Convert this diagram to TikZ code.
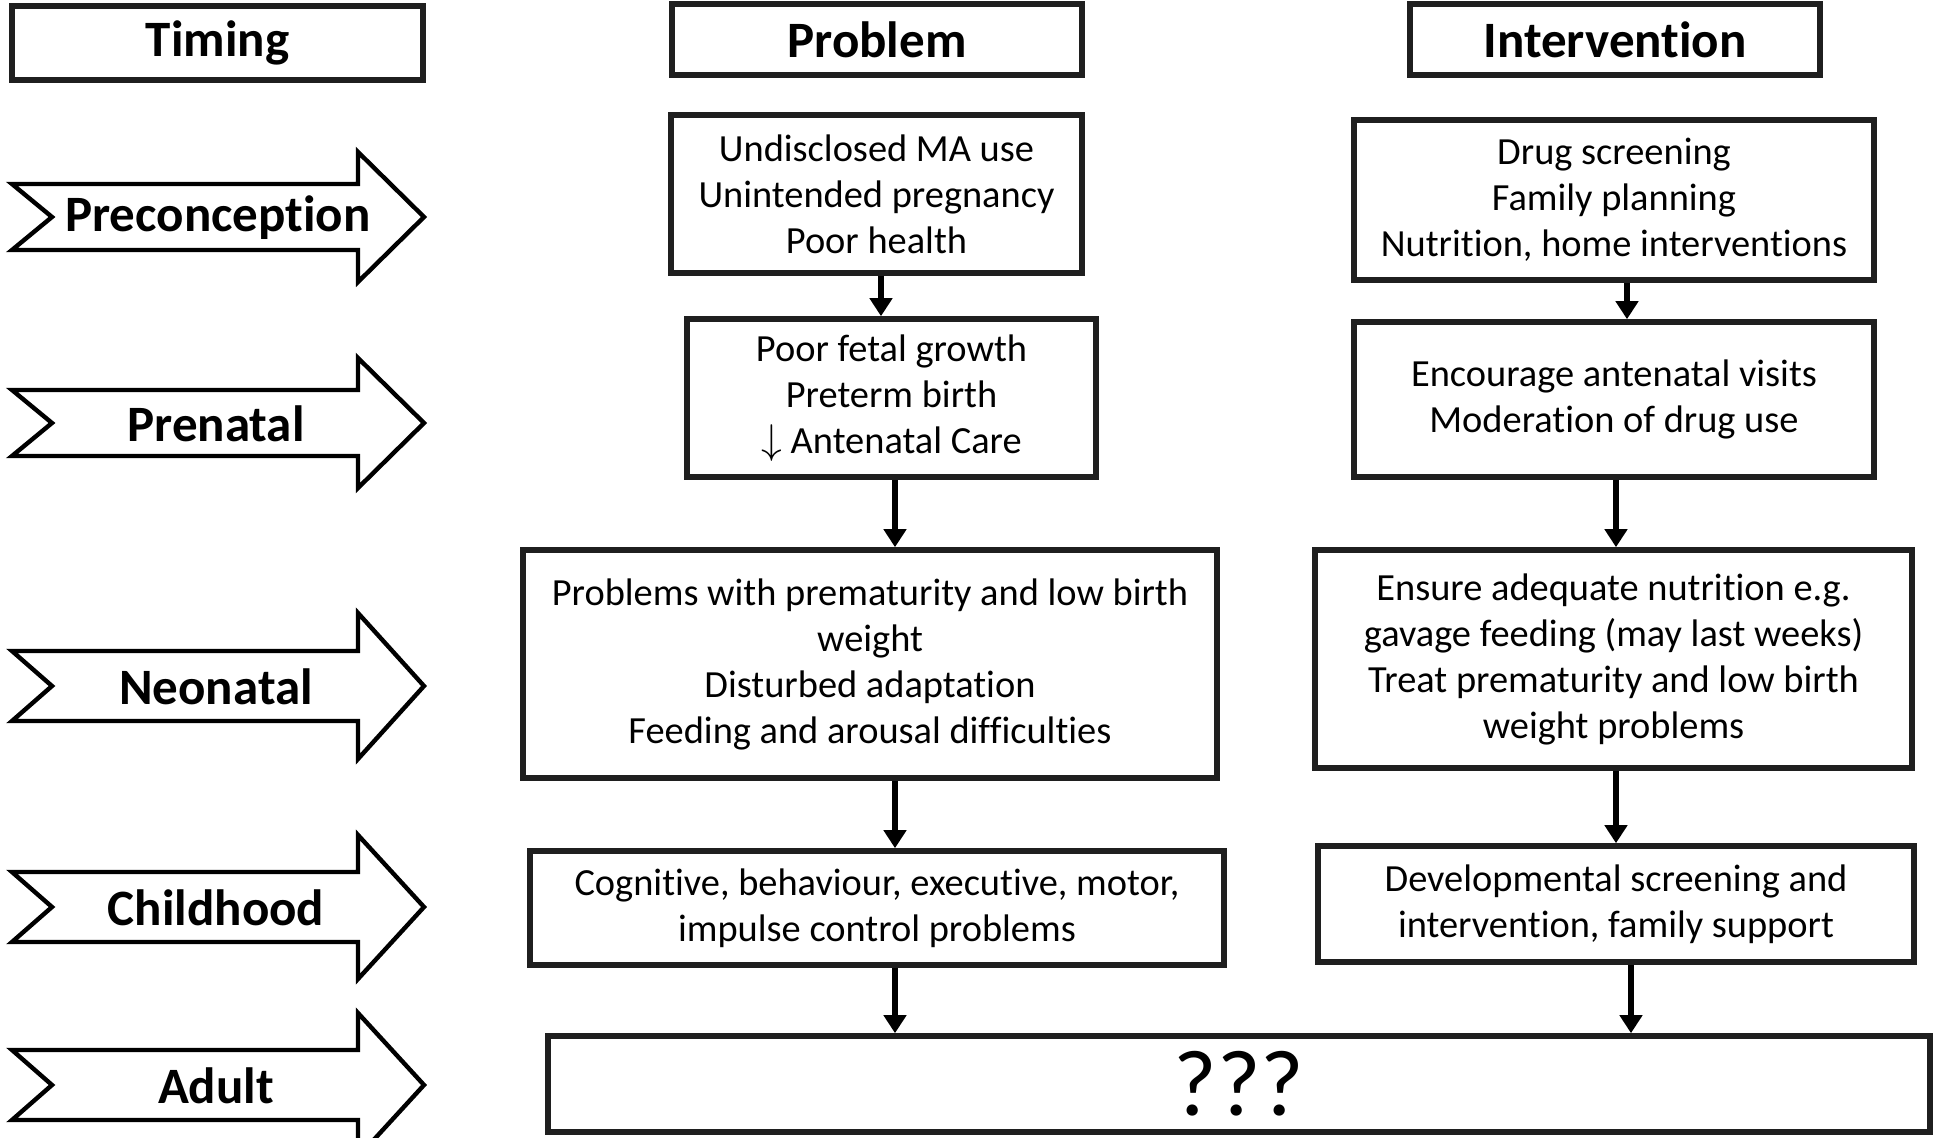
\documentclass[tikz,border=0pt]{standalone}
\usepackage{fontspec}
\setmainfont[Ligatures=NoCommon]{Carlito}
\usetikzlibrary{arrows.meta}
\newcommand\tarrow[4]{% #1 center y, #2 body half, #3 head half
  \draw[chev] (12,{#1-#2}) -- (358,{#1-#2}) -- (358,{#1-#3}) -- (424,#1) -- (358,{#1+#3}) -- (358,{#1+#2}) -- (12,{#1+#2}) -- (52,#1) -- cycle;
}
\begin{document}
\begin{tikzpicture}[x=0.5pt,y=-0.5pt,
  box/.style={draw=black!88, line width=2.8pt, fill=white, inner sep=0pt, align=center,
    font=\fontsize{19.2pt}{23pt}\selectfont},
  hdr/.style={draw=black!88, line width=2.8pt, inner sep=0pt, align=center,
    font=\fontsize{25.5pt}{30pt}\selectfont\bfseries},
  chev/.style={draw=black, line width=2.2pt, line join=miter},
  ttxt/.style={inner sep=0pt, font=\fontsize{25.5pt}{30pt}\selectfont\bfseries},
  conn/.style={draw=black, line width=3.2pt, -{Triangle[length=9pt,width=11pt]}}]
\useasboundingbox (0,0) rectangle (1934,1138);
\fill[white] (0,0) rectangle (1934,1138);

% headers
\node[hdr, minimum width=205.5pt, minimum height=37pt] (timing) at (217.5,43) {Timing};
\node[hdr, minimum width=205pt, minimum height=35.5pt] (problem) at (877,39.5) {Problem};
\node[hdr, minimum width=205pt, minimum height=35.5pt] (interv) at (1615,39.5) {Intervention};

% timing arrows
\tarrow{217}{33}{65}{}
\node[ttxt] (pre) at (218,218) {Preconception};
\tarrow{423}{33}{65}{}
\node[ttxt] (prenatal) at (216,424) {Prenatal};
\tarrow{686}{35}{73}{}
\node[ttxt] (neo) at (216,687) {Neonatal};
\tarrow{907}{35}{72}{}
\node[ttxt] (child) at (216,908) {Childhood};
\tarrow{1085}{35}{72}{}
\node[ttxt] (adult) at (216,1086) {Adult};

% problem column
\node[box, minimum width=205.5pt, minimum height=79pt] (P1) at (876.5,194)
  {Undisclosed MA use\\Unintended pregnancy\\Poor health};
\node[box, minimum width=204.5pt, minimum height=79pt] (P2) at (891.5,398)
  {Poor fetal growth\\Preterm birth\\$\downarrow$ Antenatal Care};
\node[box, minimum width=347pt, minimum height=114pt] (P3) at (870,664)
  {Problems with prematurity and low birth\\weight\\Disturbed adaptation\\Feeding and arousal difficulties};
\node[box, minimum width=347pt, minimum height=57pt] (P4) at (877,908)
  {Cognitive, behaviour, executive, motor,\\impulse control problems};
\node[box, minimum width=691pt, minimum height=48pt, font=\fontsize{47pt}{50pt}\selectfont] (A) at (1239,1084) {???};

% intervention column
\node[box, minimum width=260pt, minimum height=80pt] (I1) at (1614,200)
  {Drug screening\\Family planning\\Nutrition, home interventions};
\node[box, minimum width=260pt, minimum height=77.5pt] (I2) at (1614,399.5)
  {Encourage antenatal visits\\Moderation of drug use};
\node[box, minimum width=298.5pt, minimum height=109pt] (I3) at (1613.5,659)
  {Ensure adequate nutrition e.g.\\gavage feeding (may last weeks)\\Treat prematurity and low birth\\weight problems};
\node[box, minimum width=298pt, minimum height=58pt] (I4) at (1616,904)
  {Developmental screening and\\intervention, family support};

% connector x positions
\coordinate (c1) at (881,0);
\coordinate (c2) at (895,0);
\coordinate (d1) at (1627,0);
\coordinate (d2) at (1616,0);
\coordinate (d3) at (1631,0);

\draw[conn] (P1.south -| c1) -- (P2.north -| c1);
\draw[conn] (P2.south -| c2) -- (P3.north -| c2);
\draw[conn] (P3.south -| c2) -- (P4.north -| c2);
\draw[conn] (P4.south -| c2) -- (A.north -| c2);
\draw[conn] (I1.south -| d1) -- (I2.north -| d1);
\draw[conn] (I2.south -| d2) -- (I3.north -| d2);
\draw[conn] (I3.south -| d2) -- (I4.north -| d2);
\draw[conn] (I4.south -| d3) -- (A.north -| d3);
\end{tikzpicture}
\end{document}
